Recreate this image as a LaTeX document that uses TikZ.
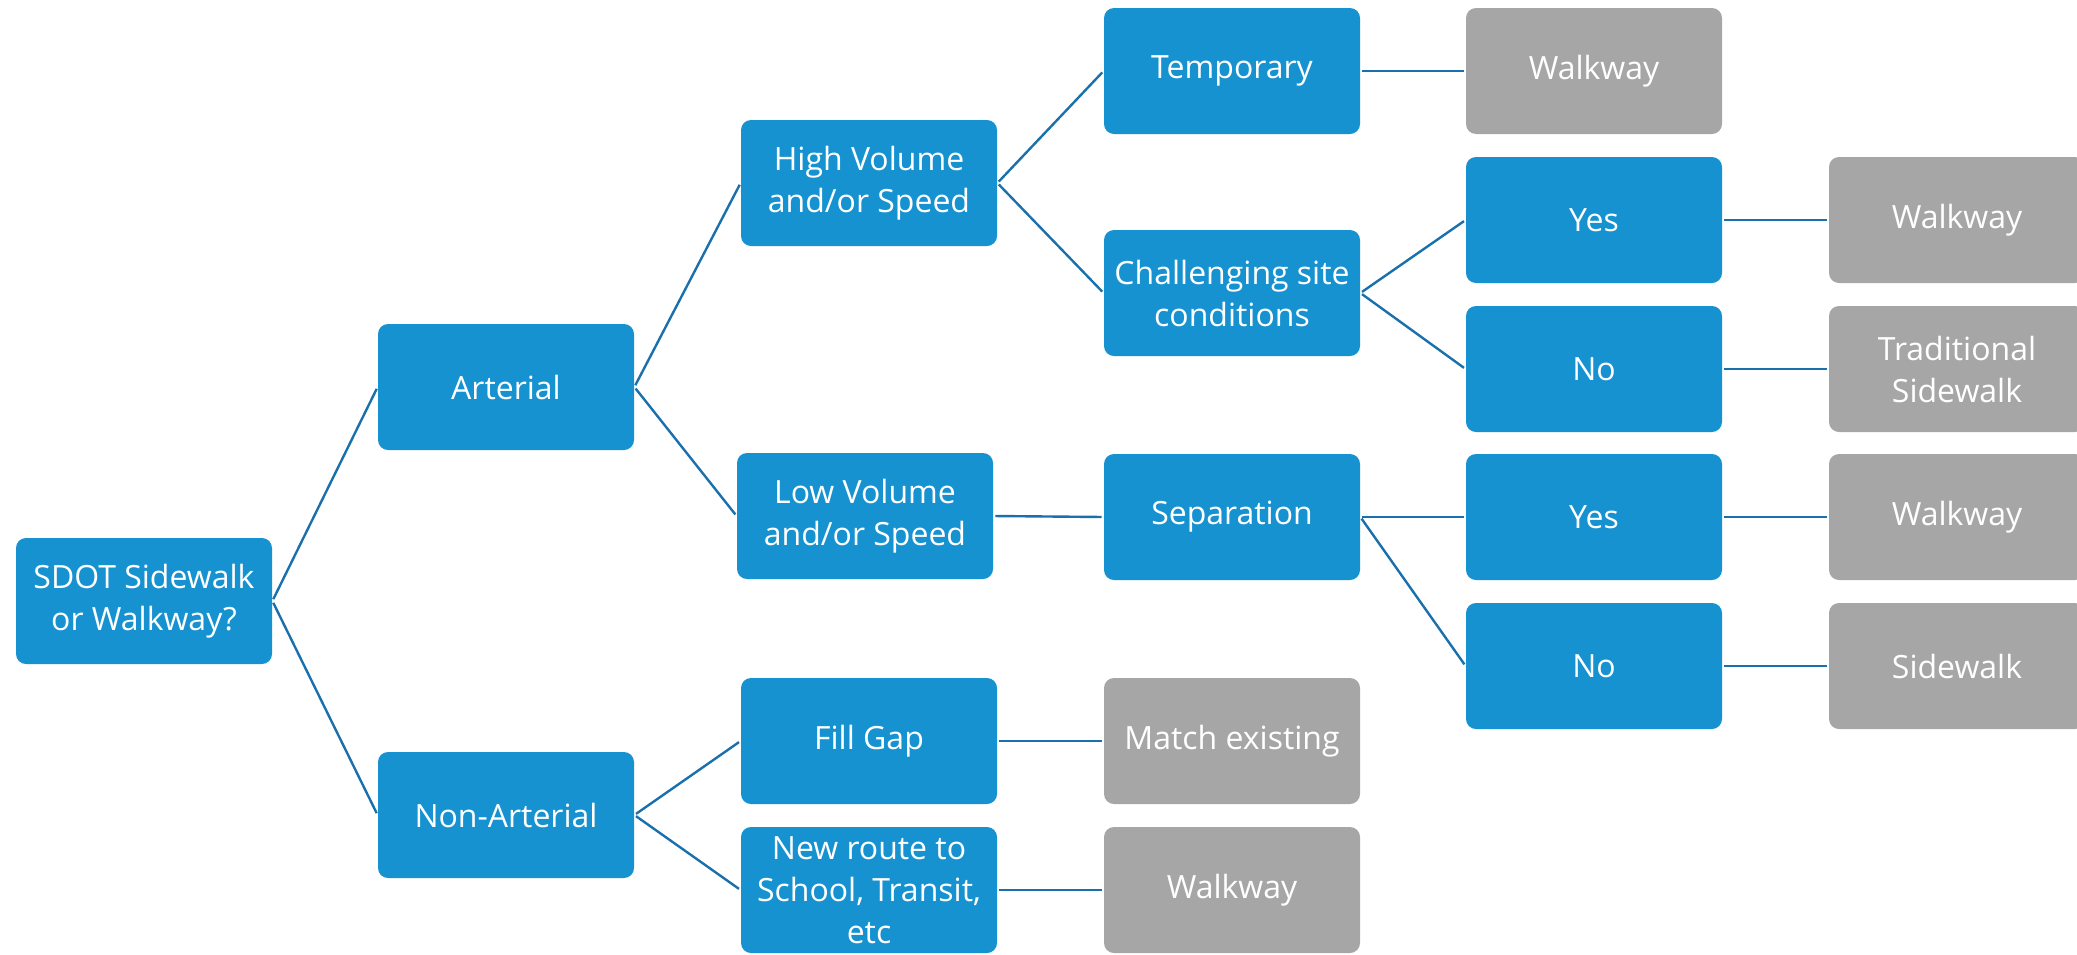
\documentclass[tikz,border=0pt]{standalone}
\usepackage{fontspec}
\setmainfont{Open Sans}
\definecolor{boxblue}{RGB}{23,146,208}
\definecolor{boxgray}{RGB}{166,166,166}
\definecolor{lineblue}{RGB}{26,112,172}
\tikzset{
  base/.style={rounded corners=5pt, minimum width=128pt, minimum height=63pt, inner sep=0pt,
    text=white, align=center, font=\fontsize{16}{21}\selectfont},
  bluebox/.style={base, fill=boxblue},
  graybox/.style={base, fill=boxgray},
  conn/.style={draw=lineblue, line width=1.2pt, shorten <=1pt, shorten >=1pt}
}
\begin{document}
\begin{tikzpicture}[x=0.5pt,y=-0.5pt]
\useasboundingbox (0,0) rectangle (2077,954);
\clip (0,0) rectangle (2077,954);
% column 1
\node[bluebox] (sdot) at (144,601) {SDOT Sidewalk\\or Walkway?};
% column 2
\node[bluebox] (art) at (506,387) {Arterial};
\node[bluebox] (nonart) at (506,815) {Non-Arterial};
% column 3
\node[bluebox] (high) at (869,183) {High Volume\\and/or Speed};
\node[bluebox] (low) at (865,516) {Low Volume\\and/or Speed};
\node[bluebox] (fill) at (869,741) {Fill Gap};
\node[bluebox] (newr) at (869,890) {New route to\\School, Transit,\\etc};
% column 4
\node[bluebox] (temp) at (1232,71) {Temporary};
\node[bluebox] (chal) at (1232,293) {Challenging site\\conditions};
\node[bluebox] (sep) at (1232,517) {Separation};
\node[graybox] (match) at (1232,741) {Match existing};
\node[graybox] (walk3) at (1232,890) {Walkway};
% column 5
\node[graybox] (walk1) at (1594,71) {Walkway};
\node[bluebox] (yes1) at (1594,220) {Yes};
\node[bluebox] (no1) at (1594,369) {No};
\node[bluebox] (yes2) at (1594,517) {Yes};
\node[bluebox] (no2) at (1594,666) {No};
% column 6
\node[graybox] (walk2) at (1957,220) {Walkway};
\node[graybox] (trad) at (1957,369) {Traditional\\Sidewalk};
\node[graybox] (walk4) at (1957,517) {Walkway};
\node[graybox] (side) at (1957,666) {Sidewalk};
% connectors
\draw[conn] (sdot.east) -- (art.west);
\draw[conn] (sdot.east) -- (nonart.west);
\draw[conn] (art.east) -- (high.west);
\draw[conn] (art.east) -- (low.west);
\draw[conn] (nonart.east) -- (fill.west);
\draw[conn] (nonart.east) -- (newr.west);
\draw[conn] (high.east) -- (temp.west);
\draw[conn] (high.east) -- (chal.west);
\draw[conn] (low.east) -- (sep.west);
\draw[conn] (fill.east) -- (match.west);
\draw[conn] (newr.east) -- (walk3.west);
\draw[conn] (temp.east) -- (walk1.west);
\draw[conn] (chal.east) -- (yes1.west);
\draw[conn] (chal.east) -- (no1.west);
\draw[conn] (sep.east) -- (yes2.west);
\draw[conn] (sep.east) -- (no2.west);
\draw[conn] (yes1.east) -- (walk2.west);
\draw[conn] (no1.east) -- (trad.west);
\draw[conn] (yes2.east) -- (walk4.west);
\draw[conn] (no2.east) -- (side.west);
\end{tikzpicture}
\end{document}
